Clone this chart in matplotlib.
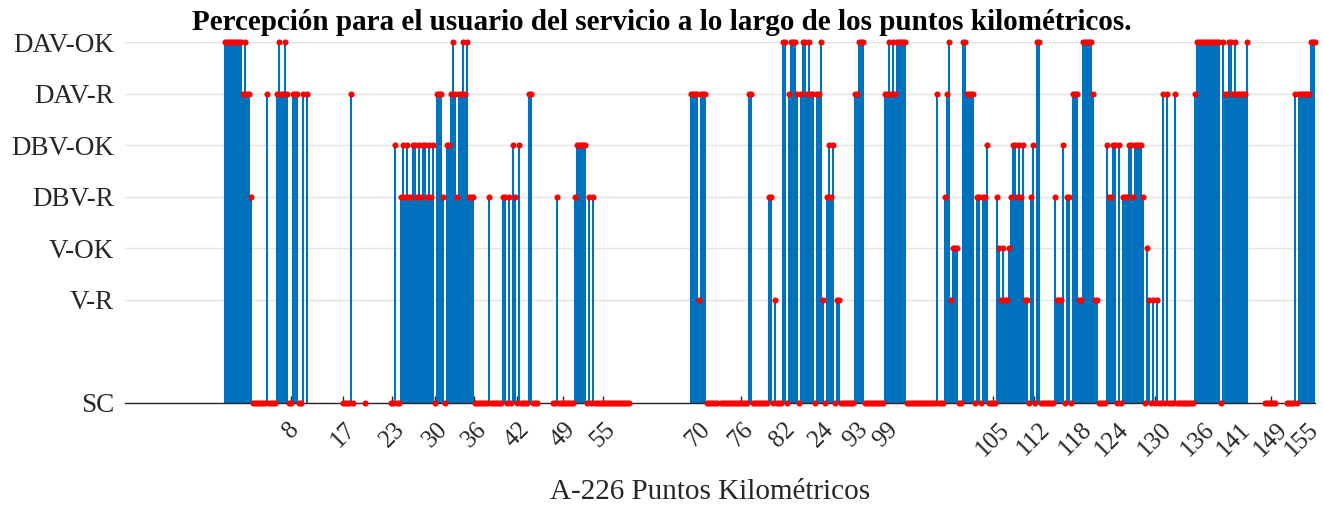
import numpy as np
import matplotlib
matplotlib.use("Agg")
import matplotlib.pyplot as plt

# ---------------- data ----------------
level_labels = ['SC', 'V-R', 'V-OK', 'DBV-R', 'DBV-OK', 'DAV-R', 'DAV-OK']
level_values = [0, 2, 3, 4, 5, 6, 7]

# perception level per sample ('.' = no measurement); one char per sample
codes = "".join([
    "77777777767664", "000000060000", "6766760", "0666006.6",
    ".................", "000060", ".....", "0", "............",
    "0050045", "454455454554545", "06664055676466767444",
    "00000004000000440405405000066000", ".......", "00400000000",
    "45555504040", "00000000000000000", "." * 30,
    "66662666", "000000", ".", "00000000000000", "66", "00000000",
    "4402000", "77067776067767660667", "2045450220000000", "66777",
    "0000000000", "66767677777", "000000000000000", "6",
    "000467233300", "77666604404450000", "4323223455454522045077",
    "0000000", "422250440666227777762200005",
    "445505044455455554", "0320202006060006", "000000000",
    "677777777777707667767666667", "........", "000000", ".....",
    "0000", "60666666777",
])
first_sample = 50

tick_positions = [83, 109, 133.5, 155, 174.5, 196, 219, 239, 286.5, 308, 329,
                  348, 365.5, 380.5, 434, 454.5, 475.5, 493.5, 515, 536.5,
                  554.5, 573, 588.5]
tick_labels = ['8', '17', '23', '30', '36', '42', '49', '55', '70', '76', '82',
               '24', '93', '99', '105', '112', '118', '124', '130', '136',
               '141', '149', '155']

title = "Percepción para el usuario del servicio a lo largo de los puntos kilométricos."
xlabel = "A-226 Puntos Kilométricos"

# ---------------- plot ----------------
plt.rcParams['font.family'] = ['Liberation Serif', 'DejaVu Serif']

y = np.array([np.nan if c == '.' else float(c) for c in codes])
x = first_sample + np.arange(len(y))
m = ~np.isnan(y)

fig = plt.figure(figsize=(13.23, 5.08), dpi=100)
ax = fig.add_axes([125 / 1323, 1 - 403 / 508, (1315 - 125) / 1323, (403 - 42) / 508])

blue = '#0072BD'
ax.vlines(x[m], 0, y[m], colors=blue, linewidth=1.5, zorder=2)
ax.plot(x[m], y[m], 'o', color='red', markersize=4.4, markeredgewidth=0,
        clip_on=False, zorder=3)

ax.set_xlim(0, 595)
ax.set_ylim(0, 7)
ax.set_yticks(level_values)
ax.set_yticklabels(level_labels, fontsize=19.5)
ax.set_xticks(tick_positions)
ax.set_xticklabels(tick_labels, fontsize=18, rotation=45, ha='center', va='top')

ax.yaxis.grid(True, color='#e3e3e3', linewidth=1.0, zorder=0)
ax.set_axisbelow(True)
for s in ['top', 'right', 'left']:
    ax.spines[s].set_visible(False)
ax.spines['bottom'].set_color('#262626')
ax.spines['bottom'].set_linewidth(1.0)

ax.tick_params(axis='x', direction='in', length=5, width=1, color='#262626',
               pad=11, labelcolor='#262626')
ax.tick_params(axis='y', length=0, pad=8, labelcolor='#262626')

fig.text(0.5, 1 - 22 / 508, title, ha='center', va='center', fontsize=21,
         fontweight='bold', color='black')
fig.text(710 / 1323, 1 - 492 / 508, xlabel, ha='center', va='center',
         fontsize=21, color='#262626')

fig.savefig('out.png', dpi=100)
